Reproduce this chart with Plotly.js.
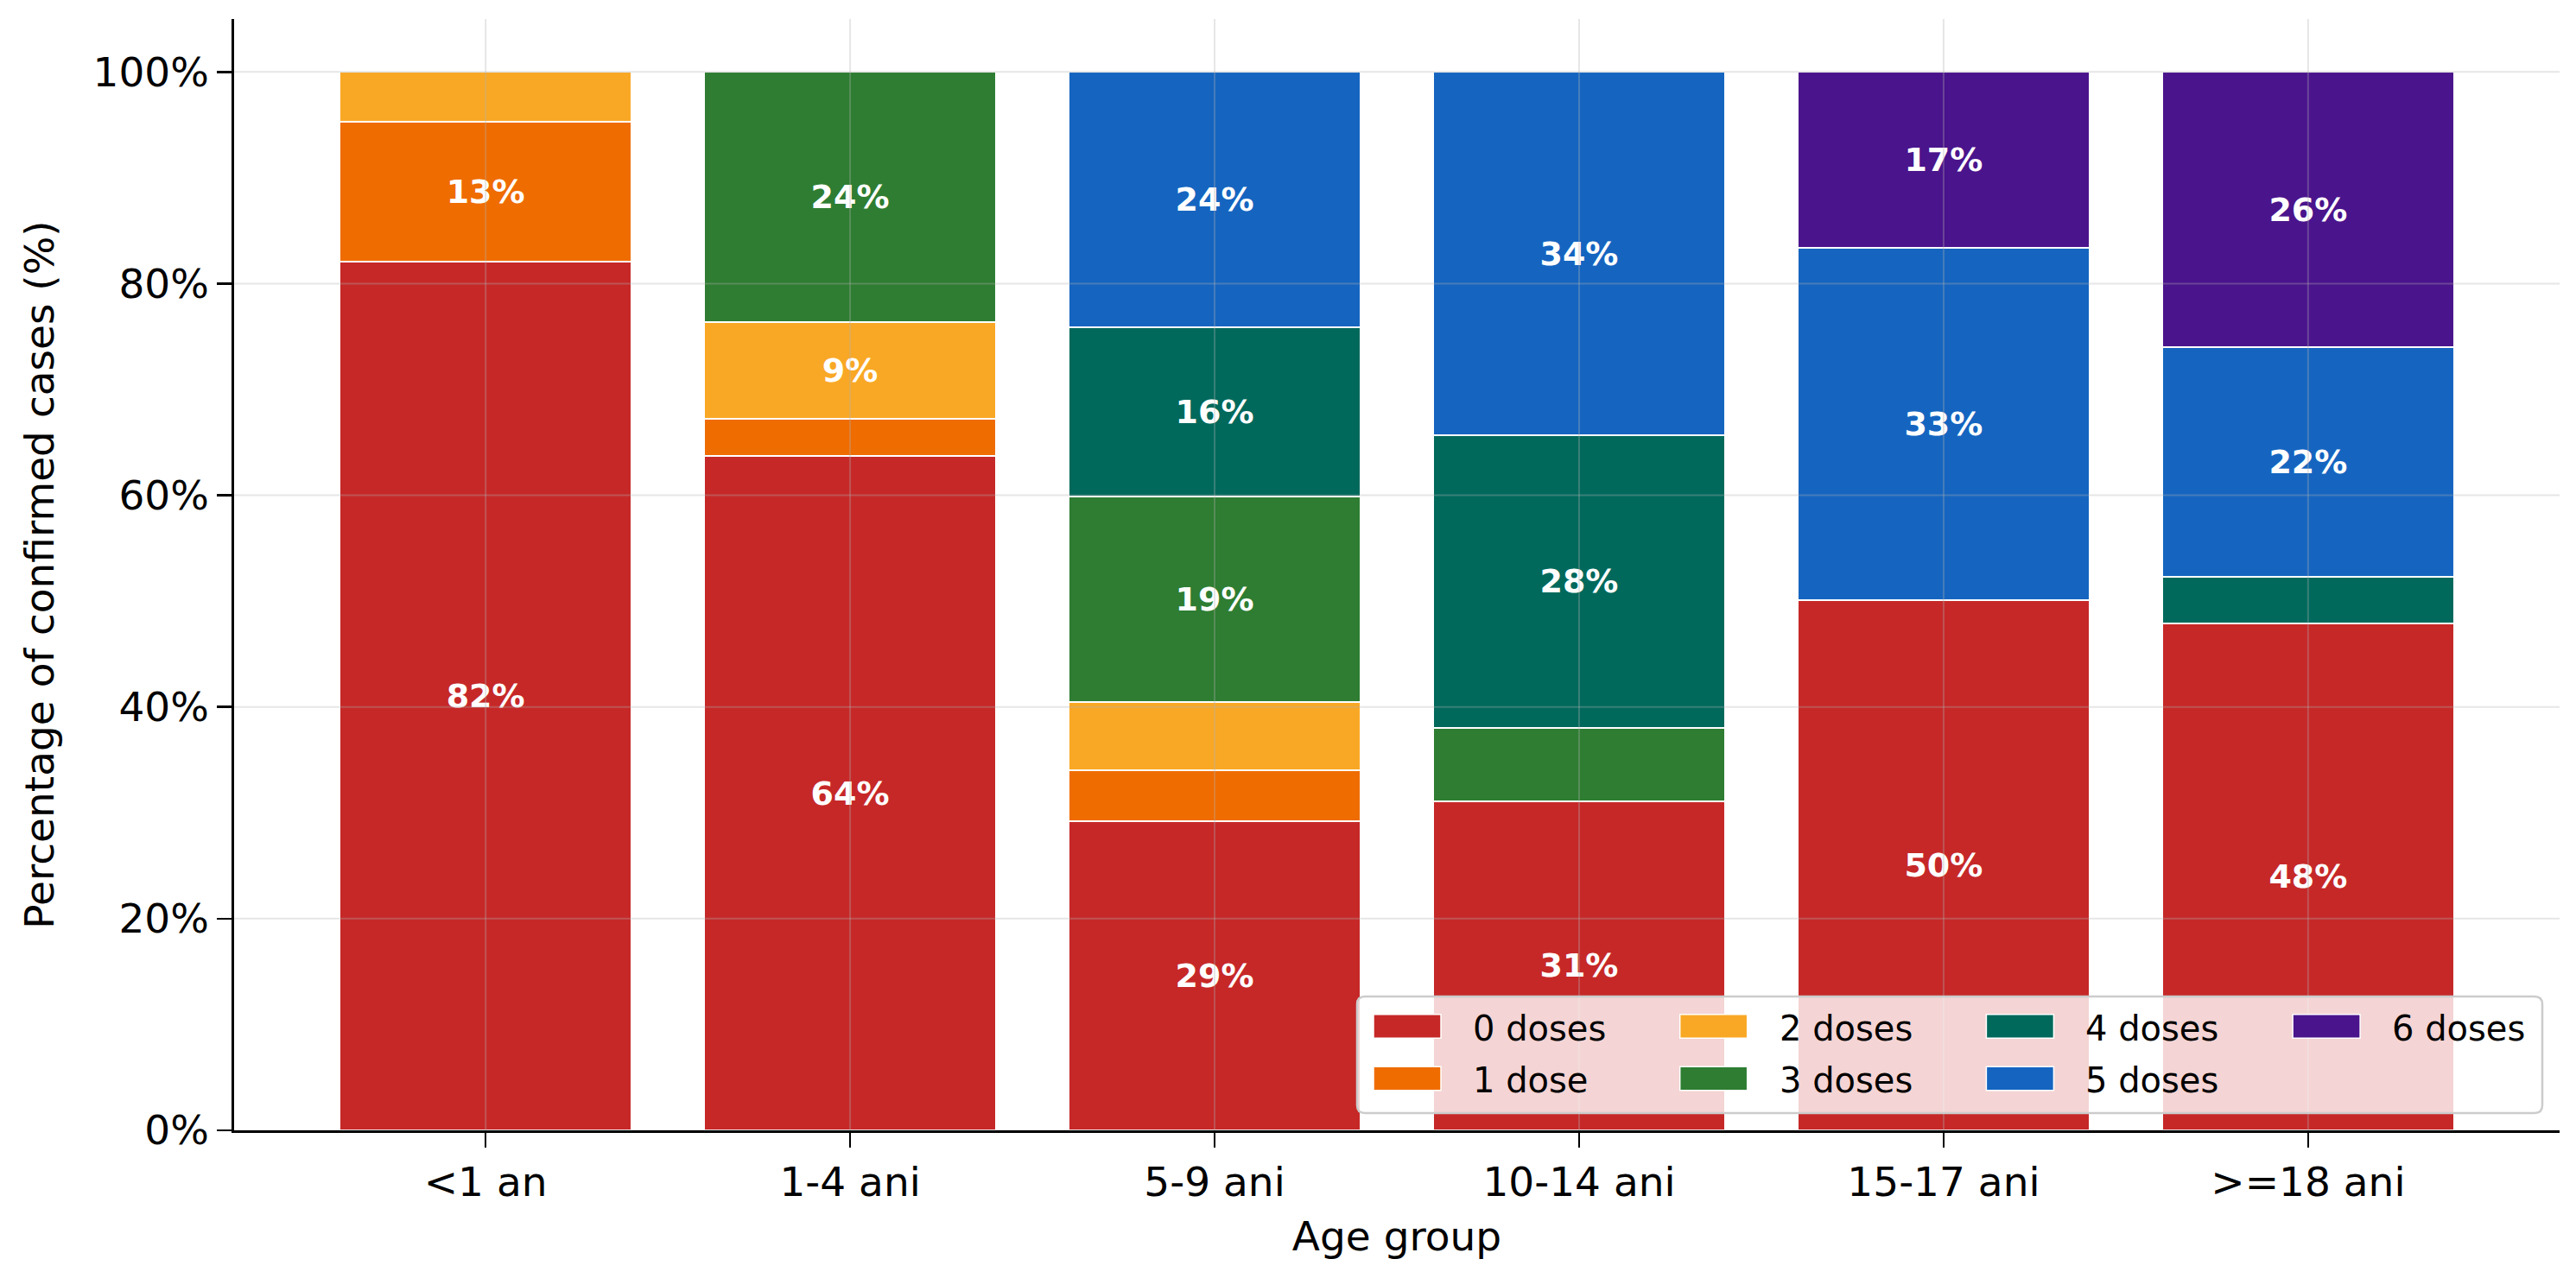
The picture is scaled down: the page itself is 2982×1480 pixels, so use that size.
<!DOCTYPE html>
<html>
<head>
<meta charset="utf-8">
<script src="https://cdn.plot.ly/plotly-3.0.1.min.js"></script>
<style>html,body{margin:0;padding:0;background:#fff;}#chart{width:2982px;height:1480px;}</style>
</head>
<body>
<div id="chart"></div>
<script>
const categories = ['<1 an', '1-4 ani', '5-9 ani', '10-14 ani', '15-17 ani', '>=18 ani'];
const seriesNames = ['0 doses', '1 dose', '2 doses', '3 doses', '4 doses', '5 doses', '6 doses'];
const seriesColors = ['#C62828', '#EF6C00', '#F9A825', '#2E7D32', '#00695C', '#1565C0', '#4A148C'];
const dose0 = [82.1, 63.7, 29.2, 31.1, 50.1, 47.9];
const dose1 = [13.2, 3.5, 4.8, 0, 0, 0];
const dose2 = [4.7, 9.2, 6.5, 0, 0, 0];
const dose3 = [0, 23.6, 19.4, 6.9, 0, 0];
const dose4 = [0, 0, 16.0, 27.7, 0, 4.4];
const dose5 = [0, 0, 24.1, 34.3, 33.3, 21.7];
const dose6 = [0, 0, 0, 0, 16.6, 26.0];
const yTicks = [0, 20, 40, 60, 80, 100];
const labelThreshold = 8;

const seriesValues = [dose0, dose1, dose2, dose3, dose4, dose5, dose6];
const FONT = 'DejaVu Sans, Verdana, sans-serif';

const W = 2982, H = 1480;
const M = {l: 271, r: 19, t: 22, b: 171};
const PW = W - M.l - M.r, PH = H - M.t - M.b;
const px2x = p => (p - M.l) / PW;
const px2y = p => (H - M.b - p) / PH;

const traces = seriesValues.map((vals, i) => ({
  type: 'bar',
  name: seriesNames[i],
  x: categories,
  y: vals.map(v => v === 0 ? null : v),
  marker: {color: seriesColors[i], line: {color: '#ffffff', width: 2}},
  text: vals.map(v => v >= labelThreshold ? Math.round(v) + '%' : ''),
  texttemplate: '%{text}',
  textposition: 'inside',
  insidetextanchor: 'middle',
  textangle: 0,
  constraintext: 'none',
  textfont: {family: FONT, size: 38, color: '#ffffff', weight: 'bold'},
  hoverinfo: 'name+y',
  showlegend: false
}));

const shapes = [];
const gridColor = 'rgba(176,176,176,0.32)';
yTicks.forEach(v => shapes.push({type: 'line', xref: 'paper', yref: 'y', x0: 0, x1: 1, y0: v, y1: v,
  line: {color: gridColor, width: 2}, layer: 'above'}));
categories.forEach((c, i) => shapes.push({type: 'line', xref: 'x', yref: 'paper', x0: i, x1: i, y0: 0, y1: 1,
  line: {color: gridColor, width: 2}, layer: 'above'}));

// custom legend (matplotlib style)
const lg = {left: 1571, right: 2943, top: 1154, bottom: 1289, r: 9};
const rx = lg.r / PW, ry = lg.r / PH;
const L = px2x(lg.left), R = px2x(lg.right), T = px2y(lg.top), B = px2y(lg.bottom);
shapes.push({type: 'path', xref: 'paper', yref: 'paper', layer: 'above',
  path: `M${L + rx},${B} L${R - rx},${B} Q${R},${B} ${R},${B + ry} L${R},${T - ry} Q${R},${T} ${R - rx},${T} L${L + rx},${T} Q${L},${T} ${L},${T - ry} L${L},${B + ry} Q${L},${B} ${L + rx},${B} Z`,
  fillcolor: 'rgba(255,255,255,0.8)', line: {color: '#cccccc', width: 2.5}});
const annotations = [];
const colPitch = 354.7, swX = 1590, swW = 78, swH = 27.5, txX = 1703;
const rowY = [1188.6, 1249];
seriesNames.forEach((name, i) => {
  const col = Math.floor(i / 2), row = i % 2;
  const x0 = swX + col * colPitch, yc = rowY[row];
  shapes.push({type: 'rect', xref: 'paper', yref: 'paper', layer: 'above',
    x0: px2x(x0), x1: px2x(x0 + swW), y0: px2y(yc + swH / 2), y1: px2y(yc - swH / 2),
    fillcolor: seriesColors[i], line: {color: '#ffffff', width: 1.5}});
  annotations.push({xref: 'paper', yref: 'paper', x: px2x(txX + col * colPitch), y: px2y(yc + 2),
    xanchor: 'left', yanchor: 'middle', text: name, showarrow: false,
    font: {family: FONT, size: 40, color: '#000000'}});
});

const layout = {
  width: W, height: H,
  margin: M,
  paper_bgcolor: '#ffffff', plot_bgcolor: '#ffffff',
  barmode: 'stack', bargap: 0.2,
  showlegend: false,
  font: {family: FONT, color: '#000000'},
  xaxis: {
    type: 'category', range: [-0.69, 5.69],
    showgrid: false, zeroline: false,
    showline: true, linecolor: '#000000', linewidth: 2.7,
    ticks: 'outside', ticklen: 17, tickwidth: 2.7, tickcolor: '#000000',
    tickfont: {family: FONT, size: 47, color: '#000000'},
    title: {text: 'Age group', font: {family: FONT, size: 47, color: '#000000'}, standoff: 20},
    automargin: false, fixedrange: true
  },
  yaxis: {
    range: [0, 105],
    tickvals: yTicks, ticktext: yTicks.map(v => v + '%'),
    showgrid: false, zeroline: false,
    showline: true, linecolor: '#000000', linewidth: 2.7,
    ticks: 'outside', ticklen: 17, tickwidth: 2.7, tickcolor: '#000000',
    tickfont: {family: FONT, size: 47, color: '#000000'},
    title: {text: 'Percentage of confirmed cases (%)', font: {family: FONT, size: 47, color: '#000000'}, standoff: 30},
    automargin: false, fixedrange: true
  },
  shapes: shapes,
  annotations: annotations
};

Plotly.newPlot('chart', traces, layout, {displayModeBar: false, staticPlot: true});
</script>
</body>
</html>
